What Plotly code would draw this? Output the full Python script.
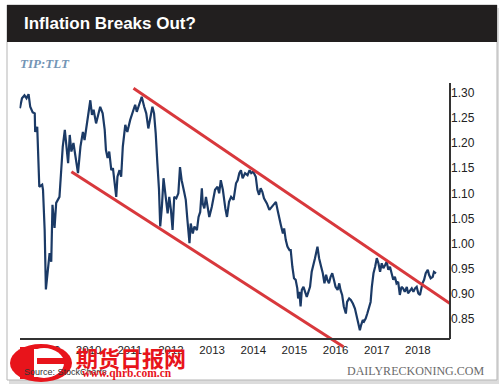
import plotly.graph_objects as go
import datetime as dt

# ---- data (fractional years, TIP:TLT ratio) ----
years = [2008.33, 2008.38, 2008.44, 2008.49, 2008.54, 2008.58, 2008.64, 2008.69, 2008.70, 2008.75,
         2008.80, 2008.87, 2008.89, 2008.93, 2008.96, 2009.05, 2009.09, 2009.12, 2009.17, 2009.21,
         2009.29, 2009.37, 2009.42, 2009.45, 2009.50, 2009.54, 2009.58, 2009.63, 2009.69, 2009.74,
         2009.80, 2009.86, 2009.90, 2009.96, 2010.00, 2010.04, 2010.08, 2010.12, 2010.18, 2010.24,
         2010.28, 2010.34, 2010.39, 2010.42, 2010.46, 2010.50, 2010.55, 2010.59, 2010.63, 2010.67,
         2010.70, 2010.75, 2010.79, 2010.83, 2010.89, 2010.94, 2011.01, 2011.08, 2011.13, 2011.17,
         2011.23, 2011.29, 2011.35, 2011.40, 2011.45, 2011.51, 2011.55, 2011.59, 2011.63, 2011.67,
         2011.71, 2011.74, 2011.78, 2011.82, 2011.86, 2011.92, 2011.96, 2012.00, 2012.04, 2012.08,
         2012.13, 2012.18, 2012.22, 2012.26, 2012.32, 2012.36, 2012.40, 2012.45, 2012.48, 2012.53,
         2012.57, 2012.63, 2012.67, 2012.71, 2012.75, 2012.77, 2012.81, 2012.85, 2012.89, 2012.93,
         2012.99, 2013.03, 2013.07, 2013.13, 2013.17, 2013.21, 2013.26, 2013.32, 2013.36, 2013.41,
         2013.46, 2013.52, 2013.58, 2013.62, 2013.66, 2013.70, 2013.74, 2013.80, 2013.86, 2013.91,
         2013.95, 2014.00, 2014.06, 2014.10, 2014.14, 2014.18, 2014.22, 2014.26, 2014.33, 2014.39,
         2014.45, 2014.49, 2014.55, 2014.59, 2014.63, 2014.67, 2014.72, 2014.75, 2014.79, 2014.83,
         2014.88, 2014.91, 2014.95, 2014.99, 2015.03, 2015.07, 2015.09, 2015.12, 2015.15, 2015.18,
         2015.22, 2015.26, 2015.30, 2015.34, 2015.38, 2015.42, 2015.46, 2015.50, 2015.56, 2015.60,
         2015.65, 2015.69, 2015.73, 2015.77, 2015.80, 2015.84, 2015.88, 2015.92, 2015.96, 2016.00,
         2016.05, 2016.09, 2016.12, 2016.16, 2016.20, 2016.25, 2016.28, 2016.33, 2016.37, 2016.42,
         2016.47, 2016.51, 2016.55, 2016.59, 2016.62, 2016.66, 2016.69, 2016.73, 2016.77, 2016.81,
         2016.85, 2016.88, 2016.92, 2016.96, 2017.00, 2017.04, 2017.08, 2017.12, 2017.16, 2017.20,
         2017.24, 2017.28, 2017.32, 2017.36, 2017.40, 2017.44, 2017.48, 2017.52, 2017.56, 2017.60,
         2017.64, 2017.68, 2017.73, 2017.76, 2017.81, 2017.85, 2017.89, 2017.93, 2017.97, 2018.01,
         2018.05, 2018.07, 2018.11, 2018.15, 2018.19, 2018.24, 2018.27, 2018.31, 2018.36, 2018.39,
         2018.44]
ratio = [1.269, 1.289, 1.295, 1.289, 1.297, 1.272, 1.261, 1.259, 1.222, 1.232,
         1.113, 1.117, 1.107, 1.027, 0.909, 0.981, 0.964, 1.077, 1.031, 1.081,
         1.093, 1.193, 1.226, 1.196, 1.160, 1.216, 1.183, 1.200, 1.166, 1.140,
         1.193, 1.222, 1.206, 1.239, 1.262, 1.285, 1.256, 1.266, 1.239, 1.259,
         1.272, 1.259, 1.226, 1.186, 1.170, 1.183, 1.146, 1.150, 1.126, 1.093,
         1.133, 1.146, 1.133, 1.193, 1.236, 1.222, 1.246, 1.262, 1.276, 1.262,
         1.279, 1.292, 1.272, 1.259, 1.229, 1.259, 1.272, 1.259, 1.219, 1.160,
         1.107, 1.034, 1.073, 1.130, 1.100, 1.060, 1.093, 1.067, 1.027, 1.093,
         1.090, 1.100, 1.152, 1.126, 1.103, 1.087, 1.047, 1.001, 1.040, 1.020,
         1.034, 1.027, 1.053, 1.063, 1.110, 1.080, 1.070, 1.093, 1.073, 1.053,
         1.073, 1.093, 1.107, 1.113, 1.100, 1.126, 1.107, 1.070, 1.053, 1.083,
         1.093, 1.087, 1.120, 1.126, 1.140, 1.146, 1.130, 1.140, 1.136, 1.146,
         1.140, 1.143, 1.133, 1.107, 1.097, 1.110, 1.103, 1.090, 1.080, 1.067,
         1.073, 1.077, 1.083, 1.067, 1.050, 1.037, 1.020, 1.030, 1.007, 0.994,
         0.987, 0.987, 0.954, 0.931, 0.928, 0.911, 0.891, 0.904, 0.875, 0.908,
         0.914, 0.901, 0.894, 0.904, 0.914, 0.944, 0.961, 0.971, 0.994, 0.971,
         0.954, 0.941, 0.921, 0.938, 0.928, 0.921, 0.934, 0.941, 0.928, 0.914,
         0.908, 0.921, 0.908, 0.898, 0.875, 0.861, 0.884, 0.891, 0.888, 0.881,
         0.871, 0.855, 0.842, 0.828, 0.838, 0.848, 0.845, 0.851, 0.861, 0.871,
         0.884, 0.914, 0.941, 0.954, 0.971, 0.961, 0.944, 0.961, 0.951, 0.957,
         0.964, 0.948, 0.954, 0.941, 0.928, 0.934, 0.921, 0.924, 0.898, 0.914,
         0.911, 0.904, 0.914, 0.901, 0.908, 0.911, 0.904, 0.911, 0.914, 0.901,
         0.898, 0.908, 0.921, 0.928, 0.941, 0.948, 0.938, 0.931, 0.934, 0.944,
         0.941]

# trend channel endpoints (fractional year, ratio)
upper_years = [2011.09, 2018.78]
upper_vals = [1.309, 0.881]
lower_years = [2009.58, 2016.19]
lower_vals = [1.143, 0.795]

tick_years = [2009, 2010, 2011, 2012, 2013, 2014, 2015, 2016, 2017, 2018]
tick_labels = [str(y) for y in tick_years]
y_ticks = [0.85, 0.90, 0.95, 1.00, 1.05, 1.10, 1.15, 1.20, 1.25, 1.30]


def to_date(fy):
    y = int(fy)
    start = dt.datetime(y, 1, 1)
    end = dt.datetime(y + 1, 1, 1)
    return start + (end - start) * (fy - y)


W, H = 500, 391


def px(x):
    return x / W


def py(y):
    return 1 - y / H


fig = go.Figure()
fig.add_trace(go.Scatter(x=[to_date(v) for v in years], y=ratio, mode="lines",
                         line=dict(color="#1b3a66", width=2.2), hoverinfo="skip"))
fig.add_trace(go.Scatter(x=[to_date(v) for v in upper_years], y=upper_vals, mode="lines",
                         line=dict(color="#d8383c", width=3), hoverinfo="skip"))
fig.add_trace(go.Scatter(x=[to_date(v) for v in lower_years], y=lower_vals, mode="lines",
                         line=dict(color="#d8383c", width=3), hoverinfo="skip"))

axis_font = dict(family="Liberation Sans, Arial, sans-serif", size=11.5, color="#222")

fig.update_layout(
    width=W, height=H, margin=dict(l=0, r=0, t=0, b=0),
    paper_bgcolor="white", plot_bgcolor="rgba(0,0,0,0)", showlegend=False,
    xaxis=dict(type="date", range=[to_date(2008.32), to_date(2018.78)],
               domain=[px(19.5), px(450)], anchor="free", position=py(339),
               tickvals=[to_date(v) for v in tick_years], ticktext=tick_labels,
               showgrid=False, zeroline=False, showline=True, linecolor="#333", linewidth=2,
               ticks="", tickfont=axis_font),
    yaxis=dict(range=[0.7885, 1.3193], domain=[py(350), py(83)], side="right", anchor="x",
               tickvals=y_ticks, tickformat=".2f", showgrid=False, zeroline=False,
               showline=False, ticks="", tickfont=dict(axis_font, size=12)),
)

shapes = [
    # card shadow and border
    dict(type="rect", xref="paper", yref="paper", x0=px(9), x1=px(499), y0=py(384), y1=py(8),
         fillcolor="#dcdcdc", line=dict(width=0), layer="below"),
    dict(type="rect", xref="paper", yref="paper", x0=px(7), x1=px(497), y0=py(380), y1=py(5),
         fillcolor="white", line=dict(color="#b5b5b5", width=1), layer="below"),
    # header bar
    dict(type="rect", xref="paper", yref="paper", x0=px(7), x1=px(497), y0=py(42), y1=py(5),
         fillcolor="#221f1f", line=dict(width=0), layer="below"),
    # right axis line
    dict(type="line", xref="paper", yref="paper", x0=px(450), x1=px(450), y0=py(339), y1=py(83),
         line=dict(color="#333", width=2)),
    # watermark logo
    dict(type="circle", xref="paper", yref="paper", x0=px(10), x1=px(72), y0=py(382), y1=py(344),
         fillcolor="#e8141b", line=dict(width=0), layer="above"),
    dict(type="circle", xref="paper", yref="paper", x0=px(24), x1=px(64), y0=py(378), y1=py(348),
         fillcolor="white", line=dict(width=0), layer="above"),
    dict(type="rect", xref="paper", yref="paper", x0=px(20), x1=px(34), y0=py(379), y1=py(347),
         fillcolor="#e8141b", line=dict(width=0), layer="above"),
    dict(type="rect", xref="paper", yref="paper", x0=px(34), x1=px(37), y0=py(377), y1=py(349),
         fillcolor="white", line=dict(width=0), layer="above"),
    dict(type="rect", xref="paper", yref="paper", x0=px(37), x1=px(66), y0=py(364), y1=py(358),
         fillcolor="#e8141b", line=dict(width=0), layer="above"),
]
fig.update_layout(shapes=shapes)

ann = [
    dict(text="<b>Inflation Breaks Out?</b>", x=px(22), y=py(24), xanchor="left", yanchor="middle",
         font=dict(family="Liberation Sans, Arial, sans-serif", size=17, color="white")),
    dict(text="<b><i>TIP:TLT</i></b>", x=px(18), y=py(63), xanchor="left", yanchor="middle",
         font=dict(family="Liberation Serif, Times New Roman, serif", size=13, color="#7495b5")),
    dict(text="DAILYRECKONING.COM", x=px(486), y=py(371), xanchor="right", yanchor="middle",
         font=dict(family="Liberation Serif, Times New Roman, serif", size=12, color="#6a6a6a")),
    dict(text="Source: StockCharts", x=px(22), y=py(372), xanchor="left", yanchor="middle",
         font=dict(family="Liberation Sans, Arial, sans-serif", size=9, color="#333")),
    dict(text="<b>期货日报网</b>", x=px(74), y=py(357), xanchor="left", yanchor="middle",
         font=dict(family="Noto Sans CJK SC", size=22, color="#e8141b")),
    dict(text="<b>www.qhrb.com.cn</b>", x=px(80), y=py(373), xanchor="left", yanchor="middle",
         font=dict(family="Liberation Serif, serif", size=11.5, color="#e8141b")),
]
for a in ann:
    a.update(xref="paper", yref="paper", showarrow=False)
fig.update_layout(annotations=ann)

fig.write_html("out.html", config={"displayModeBar": False},
               post_script="document.body.style.margin='0';document.body.style.padding='0';")
